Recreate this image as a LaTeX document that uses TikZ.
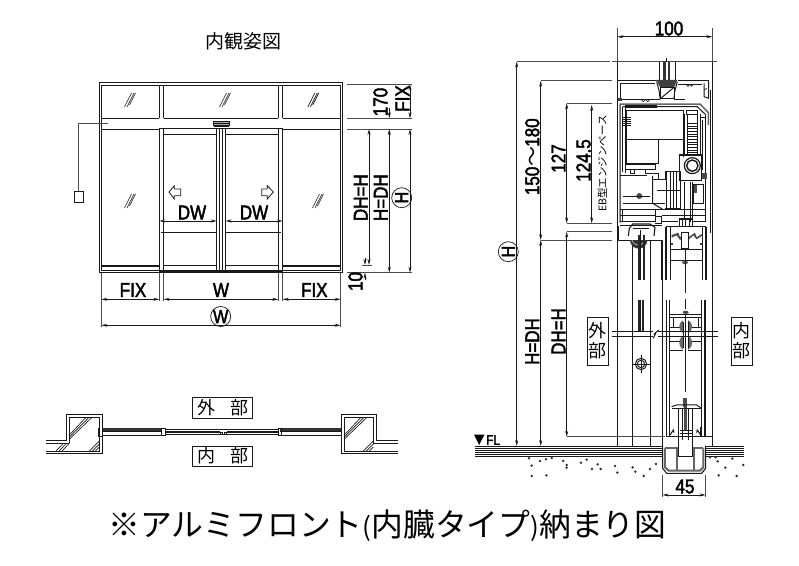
\documentclass[tikz,border=0pt]{standalone}
\usepackage{fontspec}
\usetikzlibrary{arrows.meta}
\setmainfont[FakeStretch=0.85,FakeBold=2.2]{Liberation Sans}
\newfontfamily\jp{Noto Sans CJK JP}
\newcommand{\fs}[1]{\fontsize{#1}{#1}\selectfont}
\definecolor{ink}{gray}{0.1}
\definecolor{thin}{gray}{0.3}
\tikzset{
  every path/.style={line cap=butt},
  main/.style={draw=ink,line width=1pt},
  heavy/.style={draw=ink,line width=1.6pt},
  grayl/.style={draw=black!60,line width=1.5pt},
  fine/.style={draw=ink,line width=0.65pt},
  ext/.style={draw=thin,line width=0.65pt},
  dimline/.style={draw=ink,line width=0.65pt,{Stealth[length=6pt,width=3pt]}-{Stealth[length=6pt,width=3pt]}},
  dimtip/.style={draw=ink,line width=0.65pt,-{Stealth[length=6pt,width=3pt]}},
  lab/.style={inner sep=0pt,text=black,font=\fs{20}},
  vlab/.style={inner sep=0pt,text=black,font=\fs{20},rotate=90},
  jpl/.style={inner sep=0pt,text=black,font=\jp\fs{18}},
  circ/.style={draw=ink,line width=0.7pt,circle,minimum size=20pt,inner sep=0pt,text=black,font=\fs{19}},
  labbox/.style={draw=ink,line width=0.9pt,fill=none},
}
\newcommand{\glassmark}[2]{%
  \draw[fine] (#1-4.5,#2+7)--(#1+2.5,#2-7) (#1-2,#2+7)--(#1+5,#2-7) (#1+0.5,#2+5)--(#1+6.5,#2-7);}
\begin{document}
\begin{tikzpicture}[x=1pt,y=-1pt]
\useasboundingbox (0,0) rectangle (799,565);
\fill[white] (0,0) rectangle (799,565);

% ---------- titles
\node[inner sep=0pt,font=\jp\fs{19}] (title) at (243,41.5) {内観姿図};
\node[inner sep=0pt,font=\jp\fs{31.8}] (caption) at (387.5,526) {※アルミフロント{\fs{26}(}内臓タイプ{\fs{26})}納まり図};

% frame
\draw[main] (99.3,82.3) rectangle (342.7,272.7);
\draw[main] (101.3,85) rectangle (340.7,270.5);
\draw[main] (101.3,118) -- (159.3,118) (163.7,118) -- (278.3,118) (282.7,118) -- (340.7,118);
\draw[main] (101.3,129) -- (159.3,129) (282.7,129) -- (340.7,129);
\draw[heavy,line width=1.3pt] (159.3,128.5) -- (282.7,128.5);
% mullions
\foreach \x in {159.3,163.7,278.3,282.7}{
  \draw[main] (\x,85) -- (\x,118) (\x,129) -- (\x,272);
}
% doors
\draw[main] (163.7,134.7) -- (216.7,134.7) (225.7,134.7) -- (278.3,134.7);
\draw[main] (216.7,129) -- (216.7,271) (225.7,129) -- (225.7,271);
\draw[heavy,line width=1.3pt] (219.6,129) -- (219.6,271) (222.6,129) -- (222.6,271);
\draw[main] (163.7,265.5) -- (216.7,265.5) (225.7,265.5) -- (278.3,265.5);
\draw[heavy,line width=1.2pt] (160,271) -- (282,271);
\draw[main] (161,232.3) -- (216.7,232.3) (225.7,232.3) -- (280.7,232.3);
% fix sill
\draw[heavy] (101.3,266) -- (159.3,266) (282.7,266) -- (340.7,266);
% sensor
\draw[main,fill=black!35] (213.5,121) rectangle (229,125.7);
\draw[main] (213.5,123) -- (229,123);
\draw[heavy] (213.5,125.7) -- (229,125.7);
% controller
\node[draw=ink,line width=0.7pt,minimum width=8.3pt,minimum height=10.6pt,inner sep=0pt] (ctrl) at (78.8,197) {};
\coordinate (ctrlEnd) at (108.3,123.3);
\draw[ext] (ctrl.north) |- (ctrlEnd);
% glass marks
\glassmark{129}{100}
\glassmark{224}{100}
\glassmark{312.3}{100}
\glassmark{129}{201}
\glassmark{317}{201}
% hollow arrows
\draw[fine,line width=0.8pt] (169,192)--(174.3,185.7)--(174.3,189)--(180.7,189)--(180.7,195.7)--(174.3,195.7)--(174.3,199)--cycle;
\draw[fine,line width=0.8pt] (273.3,192)--(267.3,185.7)--(267.3,189)--(261.7,189)--(261.7,195.7)--(267.3,195.7)--(267.3,199)--cycle;
% door width dims
\draw[dimline] (159.3,221) -- (216.7,221);
\draw[dimline] (225.7,221) -- (282.7,221);
\node[lab] (dwl) at (192,212.5) {DW};
\node[lab] (dwr) at (254,212.5) {DW};
% lower dims
\foreach \x in {159.3,163.7,278.3,282.7}{\draw[ext] (\x,273) -- (\x,301);}
\draw[ext] (101.3,273) -- (101.3,327) (340.7,273) -- (340.7,327);
\draw[dimline] (101.3,299.3) -- (159.3,299.3);
\draw[dimline] (163.7,299.3) -- (278.3,299.3);
\draw[dimline] (282.7,299.3) -- (340.7,299.3);
\draw[dimline] (101.3,325.3) -- (340.7,325.3);
\node[lab] (fixl) at (133,290) {FIX};
\node[lab] (wl) at (221,290) {W};
\node[lab] (fixr) at (314.3,290) {FIX};
\node[circ] (bigW) at (220.7,316.5) {W};
% right dims
\draw[ext] (346.7,84.5) -- (412,84.5) (346.7,118.3) -- (412,118.3);
\draw[ext,line width=1pt] (346.7,129) -- (372,129);
\draw[ext] (372,129) -- (412,129);
\draw[ext] (346.7,272.7) -- (412,272.7);
\draw[ext] (362,265) -- (372,265);
\draw[dimline] (369,129) -- (369,265);
\draw[dimline] (389.3,129) -- (389.3,272.7);
\draw[dimline] (410,129) -- (410,272.7);
\draw[dimtip] (389.3,108) -- (389.3,118.3);
\draw[dimline] (410,84.5) -- (410,118.3);
\draw[dimtip] (365,258) -- (365,265);
\draw[dimtip] (365,280) -- (365,272.7);
\node[vlab] (l170) at (380.5,102) {170};
\node[vlab] (lfix) at (402.5,98.5) {FIX};
\node[vlab] (ldh1) at (360.7,197.7) {DH=H};
\node[vlab] (ldh2) at (380.7,197.7) {H=DH};
\node[circ,rotate=90] (bigH) at (401.7,197.7) {H};
\node[vlab] (l10) at (355.5,281.5) {10};

% ---------- plan
\begin{scope}[shift={(30,385)},x=0.3333pt,y=-0.3333pt]
\draw[main] (48,165)--(110,165)--(110,88)--(217,88)--(217,205)--(48,205);
\draw[fine] (118,175)--(48,175) (118,175)--(118,97)--(208,97)--(208,198)--(48,198);
\foreach \d in {0,9,18}{\draw[fine] (118,150+\d*0.7)--(168+\d,97);}
\foreach \d in {0,9,18}{\draw[fine] (78+\d,198)--(100+\d,175);}
\foreach \d in {0,9,18}{\draw[fine] (178+\d,198)--(208,168+\d);}
\draw[main] (1103,165)--(1040,165)--(1040,88)--(935,88)--(935,205)--(1103,205);
\draw[fine] (1103,175)--(1030,175)--(1030,97)--(943,97)--(943,198)--(1103,198);
\foreach \d in {0,9,18}{\draw[fine] (943,150+\d*0.7)--(993+\d,97);}
\foreach \d in {0,9,18}{\draw[fine] (1000+\d,198)--(1030,168+\d);}
% leaves
\fill[black!80] (218,129) rectangle (395,138);
\fill[black!80] (750,129) rectangle (935,138);
\draw[fine] (218,140)--(395,140) (218,150)--(395,150);
\draw[fine] (750,140)--(935,140) (750,150)--(935,150);
\draw[fine] (405,132)--(745,132);
\draw[heavy,line width=1.2pt] (405,141)--(570,141) (590,141)--(745,141);
\draw[fine] (405,148)--(745,148);
\draw[fine] (395,129) rectangle (405,150) (745,129) rectangle (755,150);
\draw[fine] (570,141) rectangle (578,149) (582,141) rectangle (590,149);
\draw[fine] (205,128)--(205,153)--(218,153)--(218,128) (935,128)--(935,153);
\draw[labbox] (488,37) rectangle (668,100);
\draw[labbox] (488,183) rectangle (668,245);
\end{scope}
\node[jpl] (gai1) at (206.7,407.5) {外};
\node[jpl] (bu1) at (239.3,407.5) {部};
\node[jpl] (nai1) at (206.7,456) {内};
\node[jpl] (bu2) at (239.3,456) {部};

% ---------- section dims
\draw[ext] (617.3,28) -- (617.3,62) (712.3,28) -- (712.3,62);
\draw[dimline] (617.3,36.7) -- (712.3,36.7);
\node[lab] (l100) at (669,28.5) {100};
\draw[ext] (516.7,61.5) -- (610,61.5) (612,61.5) -- (716.7,61.5);
\draw[ext] (540.7,80.7) -- (612,80.7);
\draw[ext] (566.7,103.3) -- (612,103.3);
\draw[ext] (566.7,223.3) -- (612,223.3);
\draw[ext] (540.7,240) -- (612,240);
\draw[ext] (566.7,231.7) -- (612,231.7);
\draw[ext] (566.7,436.7) -- (665,436.7);
\draw[dimline] (516.7,61.5) -- (516.7,446);
\draw[dimline] (540.7,80.7) -- (540.7,240);
\draw[dimline] (540.7,240) -- (540.7,446);
\draw[dimline] (566.7,103.3) -- (566.7,223.3);
\draw[dimline] (591.7,105) -- (591.7,223.3);
\draw[dimline] (566.7,231.7) -- (566.7,436.7);
\node[vlab] (l150) at (532.3,156.7) {150{\jp〜}180};
\node[vlab] (l127) at (558.5,158.5) {127};
\node[vlab] (l1245) at (583.5,160.5) {124.5};
\node[vlab,font=\jp\fs{10.5}] (leb) at (602.3,163.3) {EB型エンジンベース};
\node[circ,rotate=90] (sectH) at (508.3,251.7) {H};
\node[vlab] (lhdh) at (532.3,341.5) {H=DH};
\node[vlab] (ldhh) at (558.5,331.5) {DH=H};

% ---------- section, frame
\draw[main] (617.3,62) -- (617.3,446) (712.3,62) -- (712.3,446);
\draw[main] (632.3,240) -- (632.3,446) (650,240) -- (650,446);
\draw[main] (662.7,240) -- (662.7,446);
% transom glass + glazing, zoom 7
\begin{scope}[shift={(610,55)},x=0.3333pt,y=-0.3333pt]
\draw[main] (148,20)--(148,78) (195,20)--(195,78);
\fill[black!80] (160,20) rectangle (167,78);
\fill[black!80] (174,20) rectangle (180,78);
\draw[fine] (168,20) -- (168,10);
\draw[main] (22,77)--(140,77) (205,77)--(296,77);
\fill[black!75] (140,75)--(202,75)--(192,97)--(150,97)--cycle;
\draw[main] (140,80)--(148,110)--(150,130) (202,80)--(194,110)--(192,130);
\draw[main] (150,97) rectangle (192,132);
\draw[main] (150,132)--(192,97);
\draw[main] (30,85)--(135,85) (205,88)--(275,88);
\draw[main] (30,85)--(30,135);
\draw[main] (30,135)--(150,135) (192,135)--(225,135);
\draw[fine] (95,135) arc (180:0:5) (108,135) arc (180:0:5);
\draw[fine] (230,90) arc (180:0:4) (241,90) arc (180:0:4);
\fill[black!75] (25,128) rectangle (35,137);
\draw[main] (296,77)--(296,130) (282,85)--(282,125)--(296,130);
\draw[fine] (282,105)--(290,100);
\end{scope}
% header machinery, zoom 5
\begin{scope}[shift={(610,90)},x=0.3333pt,y=-0.3333pt]
\draw[grayl] (30,398)--(30,42)--(270,42)--(295,68)--(295,105);
\draw[main] (38,50)--(262,50)--(285,72);
\draw[main] (38,50)--(38,245);
\draw[fine] (45,45) rectangle (140,52);
\draw[main] (46,55)--(46,250);
\foreach \y in {82,88,...,106}{\draw[fine] (40,\y)--(62,\y);}
\draw[main] (50,62) rectangle (220,150);
\draw[main] (50,150)--(50,222)--(146,222)--(146,150);
\draw[main] (146,150)--(220,150)--(220,200);
\draw[main] (46,225)--(135,225)--(135,238)--(46,238);
\draw[fine] (60,238)--(60,250)--(72,250)--(72,240);
\draw[fine] (105,238)--(105,250)--(118,250);
\draw[main] (30,258)--(112,258);
\draw[main] (112,250)--(145,250)--(145,270);
% belt
\draw[main] (228,60) rectangle (262,72);
\draw[main] (222,72)--(222,195) (272,72)--(272,195);
\draw[main] (232,72)--(232,195) (262,72)--(262,195);
\foreach \y in {100,108,...,195}{\draw[fine] (232,\y)--(262,\y);}
\draw[main] (278,90)--(278,240) (285,72)--(285,395);
\draw[main] (272,82)--(285,82);
% pulley block
\draw[main,line width=1.1pt] (208,195) rectangle (275,272);
\draw[main,line width=1.2pt] (247,227) circle[radius=24];
\draw[main,line width=1.4pt] (247,227) circle[radius=17];
\fill[black!70] (275,250) rectangle (290,268);
% center drum
\draw[main] (128,258)--(128,340)--(158,358);
\draw[main] (125,270)--(165,270)--(165,245)--(212,245)--(212,355)--(165,355);
\foreach \x in {170,180,190,200}{\draw[main] (\x,245)--(\x,355);}
\draw[fine] (140,300)--(212,300);
\draw[fine] (120,340)--(165,340);
\fill[black!70] (88,318) circle[radius=9];
\draw[fine] (38,318)--(120,318) (38,340)--(120,340);
\draw[fine] (222,275)--(222,385) (240,275)--(240,395) (248,275)--(248,395);
% lock
\draw[main] (250,285) rectangle (280,340);
\fill[black!70] (252,285) rectangle (262,310);
% lower rails
\draw[main] (30,360)--(285,360) (30,376)--(135,376) (155,376)--(285,376);
\draw[main] (30,395)--(135,395) (135,360)--(135,395);
\draw[main] (155,395)--(205,395) (250,395)--(285,395);
\draw[fine] (135,380)--(155,380)--(155,400)--(135,400);
\draw[main] (38,360)--(38,395);
\draw[main] (207,388) rectangle (247,410);
\foreach \x in {217,227,237}{\draw[fine] (\x,388)--(\x,410);}
\draw[main] (302,0)--(302,430);
\end{scope}
% bottom of header and door top, zoom 8
\begin{scope}[shift={(610,210)},x=0.3333pt,y=-0.3333pt]
\draw[main] (20,90)--(155,90)--(155,210);
\draw[main] (30,45)--(155,45) (25,48)--(25,90);
\draw[main,line width=1.1pt] (55,78)--(58,55)--(68,42)--(120,42)--(135,52)--(132,78);
\draw[main] (70,55)--(118,55);
\fill[black!80] (60,90) arc (180:0:26) -- cycle;
\draw[white,line width=0.4pt] (65,85) arc (180:0:20);
\fill[black!85] (83,75) rectangle (90,210);
\fill[black!85] (99,75) rectangle (106,210);
\draw[fine] (92,60)--(92,210);
% door head
\draw[main] (168,50)--(288,50);
\draw[main,line width=1.1pt] (168,50)--(168,210) (288,50)--(288,210);
\draw[main] (182,50)--(182,210) (278,50)--(278,210);
\fill[black!70] (185,75)--(205,68)--(210,82)--(225,68)--(235,82)--(255,68)--(260,82)--(278,70)--(278,76)--(260,88)--(250,76)--(235,90)--(225,76)--(210,90)--(200,76)--(185,83)--cycle;
\draw[main] (207,25) rectangle (247,50);
\draw[main,fill=white] (215,68) rectangle (235,115);
\draw[main] (225,115)--(225,130);
\draw[fine] (225,165)--(225,195);
\draw[main] (182,117)--(278,117);
\draw[main] (182,150)--(278,150);
\fill[black!65] (225,157) ellipse (9 and 6);
\fill[black!75] (183,100) rectangle (190,106);
\fill[black!75] (270,100) rectangle (277,106);
\end{scope}
% door lower part, zoom 3
\begin{scope}[shift={(470,230)},x=0.3333pt,y=-0.3333pt]
\fill[black!85] (503,210) rectangle (509,305);
\fill[black!85] (515,210) rectangle (522,305);
\draw[fine] (512,210)--(512,305);
\draw[main,line width=1.1pt] (590,210)--(590,620)--(725,620);
\draw[main] (600,210)--(600,620) (695,210)--(695,620);
\draw[main,line width=1.1pt] (705,210)--(705,620);
\draw[main] (600,253)--(695,253) (600,262)--(695,262);
\draw[main] (600,292)--(695,292);
\draw[main] (600,335)--(695,335) (600,362)--(695,362);
\draw[fine] (610,262)--(610,292) (685,262)--(685,292);
\fill[black!70] (647,247) ellipse (9 and 5);
\fill[black!60] (647,290) ellipse (19 and 21);
\fill[black!60] (647,338) ellipse (19 and 23);
\fill[white] (640,268) rectangle (654,362);
\draw[fine] (640,275)--(640,355) (654,275)--(654,355);
\draw[fine] (647,262)--(647,365);
\draw[fine,dash pattern=on 40pt off 6pt on 10pt off 6pt] (647,70)--(647,262) (647,365)--(647,490);
% break line
\draw[main] (425,306)--(548,306) (565,306)--(745,306);
\draw[main] (425,320)--(548,320) (565,320)--(745,320);
\draw[main] (550,325)--(556,312)--(553,312)--(566,300);
% roller
\draw[main,line width=1pt] (513,402) circle[radius=17];
\draw[main] (513,402) circle[radius=11];
\draw[fine] (488,402)--(542,402) (513,376)--(513,430);
% hanger bottom
\fill[black!70] (640,505) rectangle (652,530);
\fill[black!70] (641,530) rectangle (651,600);
\draw[main] (605,530)--(620,525)--(680,525)--(695,535);
\draw[main] (605,535)--(695,535);
\draw[main] (627,535)--(627,680) (668,535)--(668,680);
\draw[main] (637,535)--(637,630) (657,535)--(657,630);
\draw[main] (630,603)--(665,603) (630,612)--(665,612);
\draw[main] (620,680) rectangle (675,722);
\draw[main] (600,590)--(600,620) (692,590)--(692,620);
\draw[main] (600,615)--(610,600)--(612,608) (692,615)--(682,600)--(680,608);
% floor
\foreach \y in {648,654,660,666,672,679}{
  \draw[fine] (15,\y)--(578,\y);
  \draw[fine] (708,\y)--(822,\y);
}
% channel
\draw[main,line width=1.1pt] (578,648)--(578,715)--(590,730)--(695,730)--(707,715)--(707,648);
\draw[grayl,line width=2pt] (585,655)--(585,712)--(596,722)--(690,722)--(700,712)--(700,655);
\draw[grayl,line width=2.2pt] (585,653)--(622,653)--(622,722) (700,653)--(672,653)--(672,722);
% 45 dim
\draw[ext] (578,735)--(578,800) (707,735)--(707,800);
\draw[dimline] (578,795)--(707,795);
% dots
\foreach \p in {(177,685),(210,693),(228,688),(245,684),(280,693),(290,705),(290,713),(185,707),(333,698),(350,689),(383,703),(392,717),(366,717),(435,708),(442,728),(488,712),(496,725),(540,717),(558,702),(521,738),(185,738),(229,736),(720,682),(737,682),(743,694),(766,713),(787,686),(820,705),(746,736),(800,738)}{
  \fill[black!80] \p circle[radius=4.2];
}
\end{scope}
\node[inner sep=0pt,font=\fs{20}] (l45) at (685,486.5) {45};
\fill[black] (474,434.5) -- (484.5,434.5) -- (479.2,445) -- cycle;
\node[inner sep=0pt,font=\fs{14},anchor=west] (fl) at (486,440) {FL};
% section labels
\draw[labbox] (587,317.3) rectangle (608.7,365.7);
\draw[labbox] (731,317.3) rectangle (752.7,365.7);
\node[jpl] (gai2) at (597.8,330.5) {外};
\node[jpl] (bu3) at (597.8,351) {部};
\node[jpl] (nai2) at (741.8,330.5) {内};
\node[jpl] (bu4) at (741.8,351) {部};
\end{tikzpicture}
\end{document}
